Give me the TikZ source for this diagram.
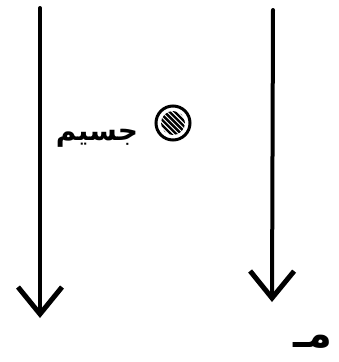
\documentclass[tikz,border=0pt]{standalone}
\usepackage{fontspec}
\newfontfamily\arabicfont[Script=Arabic]{DejaVu Sans}
\TeXXeTstate=1
\usetikzlibrary{arrows.meta}
\begin{document}
\begin{tikzpicture}[x=1pt,y=-1pt,
  flow/.style={line width=4pt,line cap=round,-{Straight Barb[length=27pt,width=44pt,line width=5pt]}},
  label/.style={inner sep=0pt,font=\arabicfont\bfseries\fontsize{28}{32}\selectfont}]
\useasboundingbox[fill=white] (0,0) rectangle (339,362);
\coordinate (a1) at (40,8);
\coordinate (a2) at (40,318);
\coordinate (b1) at (273,10);
\coordinate (b2) at (272,302);
\draw[flow] (a1) -- (a2);
\draw[flow] (b1) -- (b2);
\node[label] (w) at (97,138) {\beginR جسيم\endR};
\node[circle,draw,line width=3pt,minimum size=34pt,inner sep=0pt] (p) at (173,123) {};
\begin{scope}
\clip (173,123) circle (12pt);
\foreach \d in {-14,-10,...,14}
  \draw[line width=2.4pt] (163+\d,113-\d*0.3) -- (183+\d,133-\d*0.3);
\end{scope}
\node[label,font=\arabicfont\bfseries\fontsize{40}{44}\selectfont] (m) at (313,342) {\beginR مـ\endR};
\end{tikzpicture}
\end{document}
